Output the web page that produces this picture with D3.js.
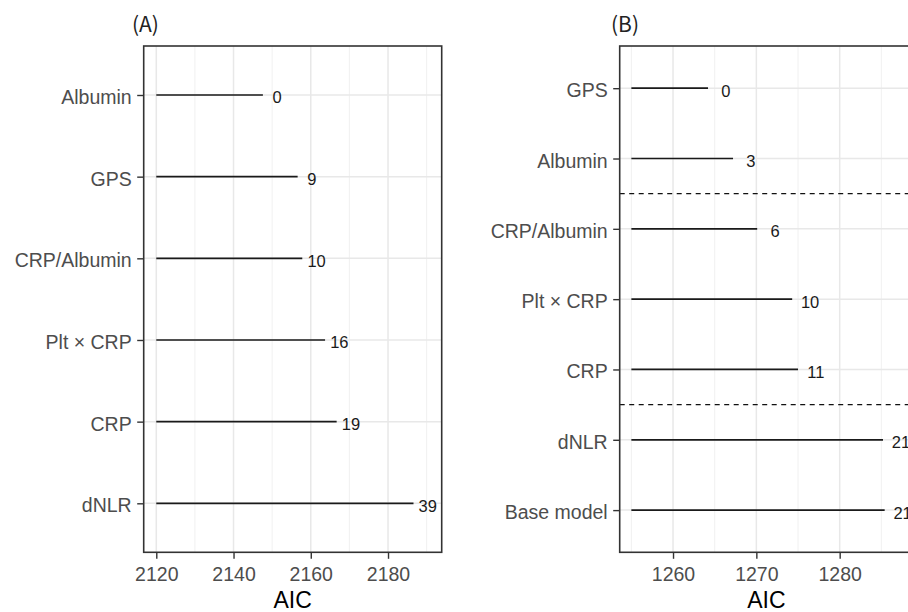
<!DOCTYPE html>
<html>
<head>
<meta charset="utf-8">
<script src="https://cdn.jsdelivr.net/npm/d3@7"></script>
<style>
  body { margin: 0; background: #fff; }
  svg { display: block; }
</style>
</head>
<body>
<div id="chart"></div>
<script>
// panel A data (AIC per model)
var catsA = ["Albumin", "GPS", "CRP/Albumin", "Plt \u00d7 CRP", "CRP", "dNLR"];
var aicA = [2147.6, 2156.6, 2157.8, 2163.7, 2166.7, 2186.6];
var deltaA = ["0", "9", "10", "16", "19", "39"];
var ticksA = [2120, 2140, 2160, 2180];
var minorA = [2130, 2150, 2170, 2190];

// panel B data
var catsB = ["GPS", "Albumin", "CRP/Albumin", "Plt \u00d7 CRP", "CRP", "dNLR", "Base model"];
var aicB = [1264.2, 1267.2, 1270.1, 1274.3, 1275.0, 1285.2, 1285.4];
var deltaB = ["0", "3", "6", "10", "11", "21", "21"];
var ticksB = [1260, 1270, 1280];
var minorB = [1255, 1265, 1275, 1285];
var sepB = [2, 5]; // dashed line drawn before these rows

var W = 908, H = 612;
var svg = d3.select("#chart").append("svg")
    .attr("width", W)
    .attr("height", H);
svg.append("rect").attr("width", W).attr("height", H).attr("fill", "#fff");

var tickFont = "'Liberation Sans', Arial, sans-serif";

function drawPanel(opt) {
    var x = d3.scaleLinear().domain(opt.domain).range([opt.left, opt.right]);
    var y = d3.scalePoint().domain(opt.cats).range([opt.top, opt.bottom]).padding(0.6);
    var g = svg.append("g");

    // grid
    g.selectAll(".minor").data(opt.minor).enter().append("line")
        .attr("x1", x).attr("x2", x)
        .attr("y1", opt.top).attr("y2", opt.bottom)
        .attr("stroke", "#ececec").attr("stroke-width", 0.8);
    g.selectAll(".major").data(opt.ticks).enter().append("line")
        .attr("x1", x).attr("x2", x)
        .attr("y1", opt.top).attr("y2", opt.bottom)
        .attr("stroke", "#e8e8e8").attr("stroke-width", 1.5);
    g.selectAll(".hgrid").data(opt.cats).enter().append("line")
        .attr("x1", opt.left).attr("x2", opt.right)
        .attr("y1", y).attr("y2", y)
        .attr("stroke", "#e8e8e8").attr("stroke-width", 1.5);

    // dashed separators
    (opt.seps || []).forEach(function(i) {
        var yy = (y(opt.cats[i - 1]) + y(opt.cats[i])) / 2;
        g.append("line")
            .attr("x1", opt.left).attr("x2", opt.right)
            .attr("y1", yy).attr("y2", yy)
            .attr("stroke", "#111").attr("stroke-width", 1.3)
            .attr("stroke-dasharray", "5,4.5");
    });

    // segments
    g.selectAll(".seg").data(opt.cats).enter().append("line")
        .attr("x1", x(opt.base))
        .attr("x2", function(d, i) { return x(opt.aic[i]); })
        .attr("y1", y).attr("y2", y)
        .attr("stroke", "#1a1a1a").attr("stroke-width", 1.7);

    // delta labels
    g.selectAll(".lab").data(opt.cats).enter().append("text")
        .attr("x", function(d, i) { return x(opt.aic[i] + opt.nudge); })
        .attr("y", function(d) { return y(d) + 8.5; })
        .attr("text-anchor", "middle")
        .style("font", "16.5px " + tickFont)
        .attr("fill", "#1a1a1a")
        .text(function(d, i) { return opt.delta[i]; });

    // frame
    g.append("rect")
        .attr("x", opt.left).attr("y", opt.top)
        .attr("width", opt.right - opt.left).attr("height", opt.bottom - opt.top)
        .attr("fill", "none").attr("stroke", "#333").attr("stroke-width", 1.6);

    // y axis
    var yAxis = g.append("g")
        .attr("transform", "translate(" + opt.left + ",0)")
        .call(d3.axisLeft(y).tickSize(6.5).tickPadding(5.5));
    yAxis.select(".domain").remove();
    yAxis.selectAll("line").attr("stroke", "#333").attr("stroke-width", 1.4);
    yAxis.selectAll("text")
        .attr("dy", null).attr("y", 8.5)
        .style("font", "19.5px " + tickFont).attr("fill", "#4d4d4d");

    // x axis
    var xAxis = g.append("g")
        .attr("transform", "translate(0," + opt.bottom + ")")
        .call(d3.axisBottom(x).tickValues(opt.ticks).tickFormat(d3.format("d"))
            .tickSize(6.5).tickPadding(4));
    xAxis.select(".domain").remove();
    xAxis.selectAll("line").attr("stroke", "#333").attr("stroke-width", 1.4);
    xAxis.selectAll("text")
        .attr("dy", null).attr("y", 29)
        .style("font", "19.5px " + tickFont).attr("fill", "#4d4d4d");

    g.append("text")
        .attr("x", (opt.left + opt.right) / 2)
        .attr("y", 608)
        .attr("text-anchor", "middle")
        .style("font", "23px " + tickFont)
        .attr("fill", "#000")
        .text("AIC");

    g.append("text")
        .attr("x", opt.titleX)
        .attr("y", 32)
        .style("font", "21px 'Noto Sans CJK SC', sans-serif")
        .attr("fill", "#222")
        .text(opt.title);
}

drawPanel({
    cats: catsA, aic: aicA, delta: deltaA, ticks: ticksA, minor: minorA,
    domain: [2116.74, 2193.9], left: 143.7, right: 441.7, top: 46, bottom: 552.3,
    base: 2120, nudge: 3.7, title: "(A)", titleX: 132
});

drawPanel({
    cats: catsB, aic: aicB, delta: deltaB, ticks: ticksB, minor: minorB, seps: sepB,
    domain: [1253.6, 1288.8], left: 619.7, right: 913, top: 46, bottom: 552.3,
    base: 1255, nudge: 2.15, title: "(B)", titleX: 611
});
</script>
</body>
</html>
